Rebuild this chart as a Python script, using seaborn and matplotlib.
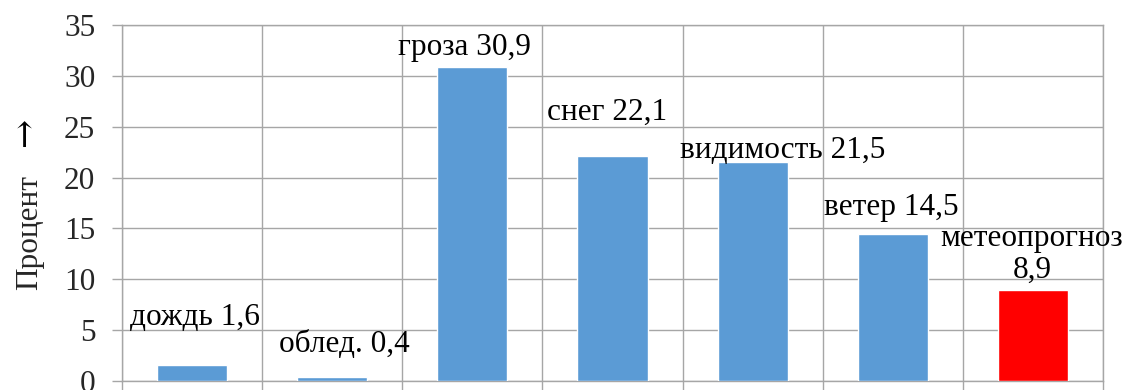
import matplotlib
matplotlib.use("Agg")
import matplotlib.pyplot as plt
import seaborn as sns
import pandas as pd
import numpy as np

# Причины задержек рейсов, процент
categories = ["дождь", "облед.", "гроза", "снег", "видимость", "ветер", "метеопрогноз"]
values = [1.6, 0.4, 30.9, 22.1, 21.5, 14.5, 8.9]
label_names = ["дождь", "облед.", "гроза", "снег", "видимость", "ветер", "метеопрогноз"]
label_breaks = [" ", " ", " ", " ", " ", " ", "\n"]
bar_colors = ["#5B9BD5", "#5B9BD5", "#5B9BD5", "#5B9BD5", "#5B9BD5", "#5B9BD5", "#FF0000"]
y_ticks = [0, 5, 10, 15, 20, 25, 30, 35]

# label placement relative to each bar (category units, value units);
# the vertical offset is for the baseline of the label's last line
label_dx = [0.02, 0.086, -0.057, -0.036, 0.214, -0.007, -0.007]
label_dy = [3.9, 2.45, 1.15, 3.56, 0.43, 1.82, 1.23]

sns.set_theme(style="white")
serif = ["Liberation Serif", "DejaVu Serif"]
plt.rcParams["font.family"] = serif

GRID = "#A6A6A6"
FS = 22.5

df = pd.DataFrame({"cat": categories, "val": values})

fig = plt.figure(figsize=(11.26, 3.9), dpi=100)
ax = fig.add_axes([122 / 1126, 1 - 381 / 390, (1103 - 122) / 1126, (381 - 25) / 390])

sns.barplot(data=df, x="cat", y="val", hue="cat", palette=bar_colors,
            width=0.5, dodge=False, legend=False, saturation=1, ax=ax, zorder=3)

ax.set_xlim(-0.5, len(categories) - 0.5)
ax.set_ylim(0, 35)
ax.set_yticks(y_ticks)
ax.set_yticklabels([str(t) for t in y_ticks], fontsize=FS)
ax.tick_params(axis="y", which="major", length=7.2, width=1.0, color=GRID,
               pad=12, left=True)

# category boundaries as vertical grid + outward ticks
ax.set_xticks(np.arange(-0.5, len(categories), 1.0), minor=True)
ax.set_xticks([])
ax.tick_params(axis="x", which="minor", length=9, width=1.0, color=GRID, bottom=True)
ax.grid(axis="y", which="major", color=GRID, linewidth=1.0, zorder=0)
ax.grid(axis="x", which="minor", color=GRID, linewidth=1.0, zorder=0)
ax.set_axisbelow(True)

for s in ax.spines.values():
    s.set_visible(True)
    s.set_color(GRID)
    s.set_linewidth(1.0)

ax.set_xlabel("")
ax.set_ylabel("Процент", fontsize=FS, family=serif)
ax.yaxis.set_label_coords(-0.0795, 0.417)
# arrow after the axis title, pointing along the value axis
ax.text(-0.0989, 0.699, "→", transform=ax.transAxes, rotation=90,
        ha="center", va="center", fontsize=25, family=["DejaVu Serif"],
        color="black")


def fmt(v):
    return f"{v:.1f}".replace(".", ",")


for i, (name, brk, v) in enumerate(zip(label_names, label_breaks, values)):
    ax.text(i + label_dx[i], v + label_dy[i], f"{name}{brk}{fmt(v)}",
            ha="center", va="baseline", fontsize=FS, family=serif,
            color="black", zorder=5, linespacing=1.15, multialignment="center")

fig.savefig("out.png", dpi=100)
